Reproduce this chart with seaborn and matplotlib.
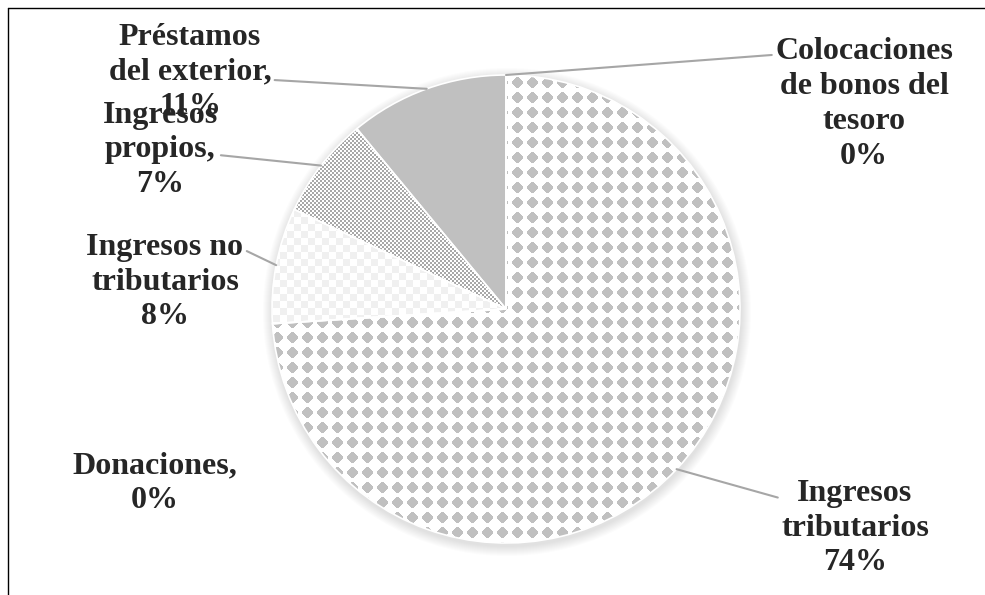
import numpy as np
import matplotlib
matplotlib.use("Agg")
import matplotlib.pyplot as plt
import seaborn as sns
from matplotlib.patches import Circle

sns.set_style("white")
plt.rcParams['font.family'] = ['Liberation Serif', 'DejaVu Serif']

# data (clockwise from 12 o'clock)
labels = ['Colocaciones\nde bonos del\ntesoro', 'Ingresos\ntributarios', 'Donaciones,',
          'Ingresos no\ntributarios', 'Ingresos\npropios,', 'Préstamos\ndel exterior,']
shares = [0, 74, 0, 8, 7, 11]

W, H = 985, 595
fig = plt.figure(figsize=(W / 100, H / 100), dpi=100)
ax = fig.add_axes([0, 0, 1, 1])

cx, cy, R = 506, 286, 234

# soft shadow around the pie
for k in range(10, 0, -1):
    ax.add_patch(Circle((cx + 1, cy - 3), R + k, color='#808080', alpha=0.025, lw=0, zorder=0))

wedges, _ = ax.pie(shares, startangle=90, counterclock=False, center=(cx, cy), radius=R,
                   colors=['white'] * len(shares),
                   wedgeprops=dict(edgecolor='white', linewidth=1.2))

# fill textures
yy, xx = np.mgrid[0:H, 0:W]
g = 0.75
diam = np.ones((H, W))
u = np.abs((xx % 15) - 7)
v = np.abs((yy % 15) - 7)
diam[(u + v <= 6) & (np.maximum(u, v) <= 5)] = g
check = np.where(((xx // 7) + (yy // 7)) % 2 == 0, 0.94, 1.0)
fine = np.where(((xx // 2) + (yy // 2)) % 2 == 0, 0.66, 1.0)
solid = np.full((H, W), g)
textures = [diam, diam, diam, check, fine, solid]

for w, tex in zip(wedges, textures):
    im = ax.imshow(tex, cmap='gray', vmin=0, vmax=1, extent=(0, W, 0, H),
                   origin='upper', interpolation='nearest', zorder=1)
    im.set_clip_path(w)
    w.set_zorder(2)
    w.set_facecolor('none')

# label placement (pixel positions, y from top) and leader start points
text_pos = [(864, 104), (855, 528), (155, 483), (165, 282), (160, 150), (190, 72)]
relpos = [(0, 0.87), (0, 0.8), None, (1, 0.83), (1, 0.45), (1, 0.42)]

cum = np.cumsum([0] + shares[:-1])
for i, (lab, s) in enumerate(zip(labels, shares)):
    mid = 90 - (cum[i] + s / 2) / sum(shares) * 360
    px = cx + R * np.cos(np.radians(mid))
    py = cy + R * np.sin(np.radians(mid))
    tx, ty = text_pos[i]
    txt = f"{lab}\n{s}%"
    kw = dict(ha='center', va='center', fontsize=23, fontweight='bold',
              linespacing=1.26, zorder=5)
    if relpos[i] is None:
        ax.text(tx, H - ty, txt, **kw)
    else:
        ax.annotate(txt, xy=(px, py), xytext=(tx, H - ty),
                    arrowprops=dict(arrowstyle='-', color='#a6a6a6', lw=1.5,
                                    relpos=relpos[i], shrinkA=0, shrinkB=0), **kw)

ax.set_xlim(0, W)
ax.set_ylim(0, H)
ax.set_aspect('auto')
ax.axis('off')

# chart frame (top and left edges visible)
fig.add_artist(plt.Line2D([8 / W, 8 / W], [0, 1 - 8 / H], color='black', lw=1))
fig.add_artist(plt.Line2D([8 / W, 1], [1 - 8 / H, 1 - 8 / H], color='black', lw=1))

fig.savefig('out.png', dpi=100, facecolor='white')
